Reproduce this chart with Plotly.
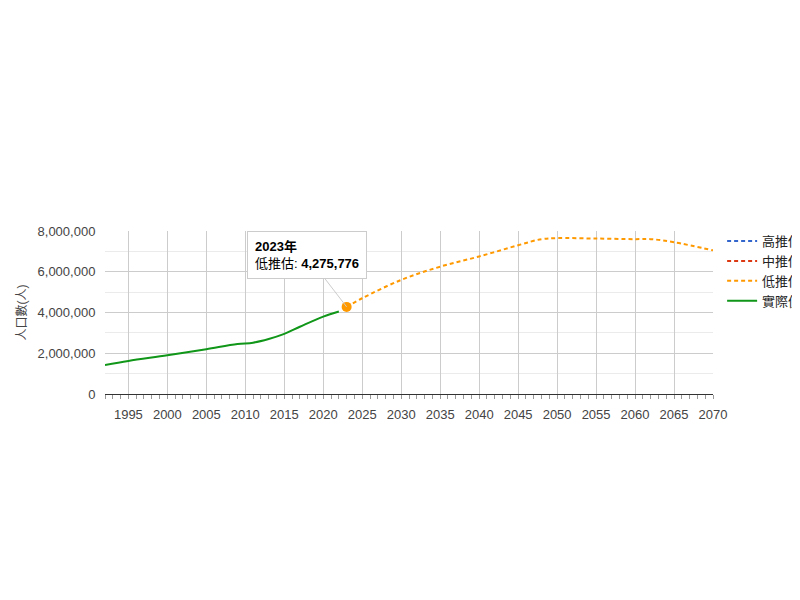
import plotly.graph_objects as go

actual_years = [1992, 1995, 2000, 2005, 2009, 2011, 2013, 2015, 2017, 2020, 2022]
actual_vals = [1420000, 1620000, 1900000, 2200000, 2450000, 2520000, 2700000, 2950000, 3300000, 3800000, 4050000]
proj_years = [2023, 2025, 2030, 2035, 2040, 2045, 2048, 2050, 2055, 2060, 2062, 2065, 2070]
low_vals = [4275776, 4700000, 5600000, 6250000, 6750000, 7300000, 7600000, 7650000, 7630000, 7600000, 7600000, 7450000, 7050000]
y_ticks = [0, 2000000, 4000000, 6000000, 8000000]
y_labels = ["0", "2,000,000", "4,000,000", "6,000,000", "8,000,000"]
x_ticks = list(range(1995, 2071, 5))

dash = "4px,3px"
fig = go.Figure()
fig.add_trace(go.Scatter(x=[None], y=[None], name="高推估", mode="lines",
                         line=dict(color="#3366cc", width=2, dash=dash)))
fig.add_trace(go.Scatter(x=[None], y=[None], name="中推估", mode="lines",
                         line=dict(color="#dc3912", width=2, dash=dash)))
fig.add_trace(go.Scatter(x=proj_years, y=low_vals, name="低推估", mode="lines",
                         line=dict(color="#ff9900", width=2, dash=dash, shape="spline")))
fig.add_trace(go.Scatter(x=actual_years, y=actual_vals, name="實際值", mode="lines",
                         line=dict(color="#109618", width=2, shape="spline")))
fig.add_trace(go.Scatter(x=[proj_years[0]], y=[low_vals[0]], mode="markers", showlegend=False,
                         marker=dict(color="#ff9900", size=10)))

fig.add_annotation(x=proj_years[0], y=low_vals[0], ax=-40, ay=-52,
                   text="<b>2023年</b><br>低推估: <b>4,275,776</b>", align="left",
                   showarrow=True, arrowhead=0, arrowcolor="#cccccc", arrowwidth=1,
                   bgcolor="white", bordercolor="#cccccc", borderwidth=1, borderpad=7,
                   font=dict(size=13, color="#000"))

fig.update_layout(
    width=800, height=600, paper_bgcolor="white", plot_bgcolor="white",
    margin=dict(l=97, r=95, t=223, b=214, autoexpand=False),
    font=dict(family="Arial, Noto Sans CJK TC", size=12, color="#444"),
    legend=dict(x=1.015, y=1.03, xanchor="left", yanchor="top", font=dict(size=13, color="#222"),
                bgcolor="rgba(0,0,0,0)", tracegroupgap=2),
    showlegend=True,
)
fig.update_xaxes(range=[1992, 2070], tickvals=x_ticks, showgrid=True, gridcolor="#cccccc",
                 showline=True, linecolor="#333", ticks="outside", ticklen=8, tickcolor="rgba(0,0,0,0)",
                 tickfont=dict(size=13, color="#444"), automargin=False,
                 minor=dict(dtick=1, ticks="outside", ticklen=4, tickcolor="#999", showgrid=False))
fig.update_yaxes(range=[0, 8000000], tickvals=y_ticks, ticktext=y_labels, showgrid=True,
                 gridcolor="#cccccc", zeroline=False, automargin=False,
                 ticks="outside", ticklen=6, tickcolor="rgba(0,0,0,0)",
                 minor=dict(dtick=1000000, showgrid=True, gridcolor="#ebebeb"),
                 title=dict(text="人口數(人)", font=dict(size=12, color="#444"), standoff=8),
                 tickfont=dict(size=13, color="#444"))

fig.write_html("out.html")
